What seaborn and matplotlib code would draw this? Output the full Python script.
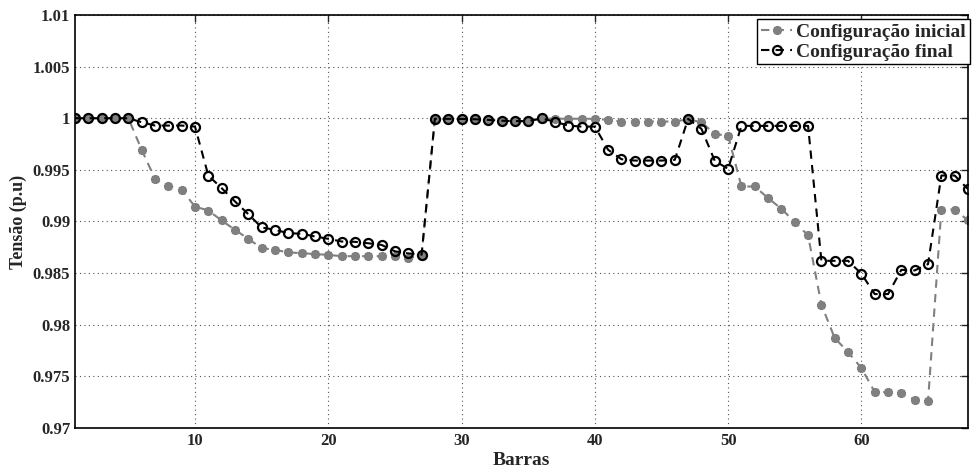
import numpy as np
import pandas as pd
import matplotlib
matplotlib.use("Agg")
import matplotlib.pyplot as plt
import seaborn as sns

barras = list(range(1, 69))

tensao_inicial = [
    1.0, 1.0, 1.0, 1.0, 1.0, 0.99694, 0.99413, 0.99345, 0.99306, 0.99145,
    0.99106, 0.99010, 0.98919, 0.98832, 0.98742, 0.98726, 0.98700, 0.98694, 0.98684, 0.98677,
    0.98664, 0.98664, 0.98664, 0.98664, 0.98664, 0.98645, 0.98670, 0.99995, 0.99994, 0.99993,
    0.99990, 0.99984, 0.99976, 0.99972, 0.99972, 0.99997, 0.99996, 0.99995, 0.99995, 0.99994,
    0.99984, 0.99968, 0.99968, 0.99968, 0.99968, 0.99968, 0.99990, 0.99961, 0.99848, 0.99829,
    0.99339, 0.99339, 0.99226, 0.99123, 0.98994, 0.98865, 0.98194, 0.97871, 0.97735, 0.97581,
    0.97348, 0.97348, 0.97339, 0.97274, 0.97258, 0.99116, 0.99116, 0.99010,
]

tensao_final = [
    1.0, 1.0, 1.0, 1.0, 1.0, 0.99961, 0.99929, 0.99929, 0.99929, 0.99919,
    0.99445, 0.99323, 0.99194, 0.99071, 0.98942, 0.98919, 0.98887, 0.98881, 0.98855, 0.98832,
    0.98806, 0.98803, 0.98789, 0.98773, 0.98711, 0.98691, 0.98678, 0.99995, 0.99994, 0.99993,
    0.99990, 0.99984, 0.99976, 0.99972, 0.99972, 0.99998, 0.99966, 0.99929, 0.99919, 0.99919,
    0.99694, 0.99603, 0.99590, 0.99590, 0.99590, 0.99597, 0.99994, 0.99897, 0.99587, 0.99510,
    0.99926, 0.99926, 0.99926, 0.99926, 0.99926, 0.99926, 0.98619, 0.98619, 0.98619, 0.98494,
    0.98297, 0.98297, 0.98532, 0.98526, 0.98587, 0.99445, 0.99445, 0.99313,
]

labels = ["Configuração inicial", "Configuração final"]
x_ticks = [10, 20, 30, 40, 50, 60]
y_ticks = [0.97, 0.975, 0.98, 0.985, 0.99, 0.995, 1.0, 1.005, 1.01]
y_ticklabels = ["0.97", "0.975", "0.98", "0.985", "0.99", "0.995", "1", "1.005", "1.01"]

sns.set_style("white")
plt.rcParams["font.family"] = ["Liberation Serif", "DejaVu Serif"]
plt.rcParams["font.weight"] = "bold"

fig = plt.figure(figsize=(9.72, 4.68), dpi=100)
ax = fig.add_axes([0.0772, 0.0855, 0.9187, 0.8825])

df = pd.DataFrame({"Barras": barras, "ini": tensao_inicial, "fin": tensao_final})

sns.lineplot(data=df, x="Barras", y="ini", ax=ax, color="#808080",
             linestyle=(0, (4, 3)), linewidth=1.5, marker=(8, 2, 0), markersize=6.5,
             markeredgewidth=1.8, markeredgecolor="#808080", label=labels[0])
sns.lineplot(data=df, x="Barras", y="fin", ax=ax, color="black",
             linestyle=(0, (4, 3)), linewidth=1.5, marker="o", markersize=6.5,
             markerfacecolor="none", markeredgewidth=1.6, markeredgecolor="black",
             label=labels[1])

ax.set_xlim(1, 68)
ax.set_ylim(0.97, 1.01)
ax.set_xticks(x_ticks)
ax.set_yticks(y_ticks)
ax.set_yticklabels(y_ticklabels)
ax.tick_params(direction="in", length=5, width=1, labelsize=12, top=True, right=True)
for lab in ax.get_xticklabels() + ax.get_yticklabels():
    lab.set_fontweight("bold")
ax.grid(True, linestyle=(0, (1, 3)), color="#555555", linewidth=0.8)
for s in ax.spines.values():
    s.set_color("black")
    s.set_linewidth(1.2)
ax.set_xlabel("Barras", fontsize=14, fontweight="bold", labelpad=2)
ax.set_ylabel("Tensão (p.u)", fontsize=13, fontweight="bold", labelpad=4)

leg = ax.legend(loc="upper left", bbox_to_anchor=(0.764, 0.99), fontsize=14,
                frameon=True, fancybox=False, edgecolor="black", framealpha=1,
                borderpad=0.2, labelspacing=0.12, handlelength=1.6,
                handletextpad=0.2, borderaxespad=0.0)
leg.get_frame().set_linewidth(1.0)
for t in leg.get_texts():
    t.set_fontweight("bold")

fig.savefig("out.png", dpi=100)
